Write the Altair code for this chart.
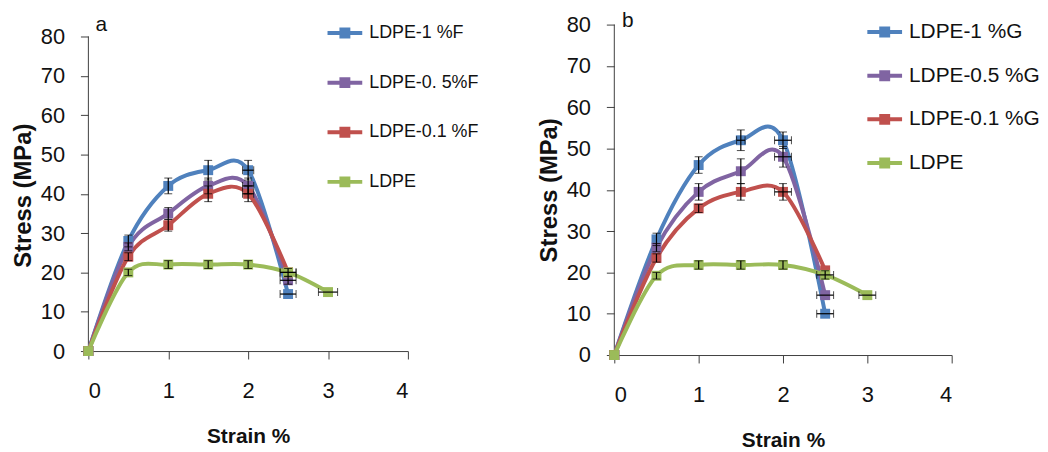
import altair as alt
import pandas as pd

# ---------------- data ----------------
strain = [0, 0.5, 1, 1.5, 2, 2.5]
strain_ldpe = [0, 0.5, 1, 1.5, 2, 2.5, 3]

# panel a (F)
a_names = ["LDPE-1 %F", "LDPE-0. 5%F", "LDPE-0.1 %F", "LDPE"]
a_f1 = [0, 28, 42, 46, 46, 14.5]
a_f05 = [0, 26.5, 35, 42, 42, 18]
a_f01 = [0, 24, 32, 40, 40, 20]
a_ldpe = [0, 20, 22, 22, 22, 20, 15]
a_f1_yerr = [0, 1.5, 2, 2.5, 2.5, 0]
a_f05_yerr = [0, 1, 1.5, 2, 2, 1]
a_f01_yerr = [0, 1, 1.5, 2, 2, 0]
a_ldpe_yerr = [0, 0.8, 1, 1, 1, 1, 0]
a_f1_xerr = [0, 0, 0, 0, 0.07, 0.1]
a_f05_xerr = [0, 0, 0, 0, 0.07, 0.1]
a_f01_xerr = [0, 0, 0, 0, 0.07, 0.1]
a_ldpe_xerr = [0, 0, 0, 0, 0, 0.1, 0.12]

# panel b (G)
b_names = ["LDPE-1 %G", "LDPE-0.5 %G", "LDPE-0.1 %G", "LDPE"]
b_g1 = [0, 28, 46, 52, 52, 10]
b_g05 = [0, 26, 39.5, 44.5, 48, 14.5]
b_g01 = [0, 23.5, 35.5, 39.5, 39.5, 20.5]
b_ldpe = [0, 19.2, 21.8, 21.8, 21.8, 19.4, 14.5]
b_g1_yerr = [0, 1.5, 2, 2.5, 2, 0]
b_g05_yerr = [0, 1, 2, 3, 2.5, 0]
b_g01_yerr = [0, 1, 1, 2, 2, 0]
b_ldpe_yerr = [0, 0.8, 1, 1, 1, 1, 0]
b_g1_xerr = [0, 0, 0, 0.05, 0.1, 0.1]
b_g05_xerr = [0, 0, 0, 0, 0.1, 0.1]
b_g01_xerr = [0, 0, 0, 0, 0.1, 0]
b_ldpe_xerr = [0, 0, 0, 0, 0, 0.1, 0.1]

colors = ["#4F81BD", "#8064A2", "#C0504D", "#9BBB59"]
y_ticks = [0, 10, 20, 30, 40, 50, 60, 70, 80]
x_ticks = [0, 1, 2, 3, 4]

FONT = "Liberation Sans"
AXIS_COLOR = "#404040"


def build(names, ys, yerrs, xerrs):
    rows = []
    for name, yv, ye, xe in zip(names, ys, yerrs, xerrs):
        xs = strain_ldpe if len(yv) == 7 else strain
        for xv, y, e1, e2 in zip(xs, yv, ye, xe):
            rows.append({"series": name, "strain": xv, "stress": y,
                         "yerr": e1, "xerr": e2})
    return pd.DataFrame(rows)


df_a = build(a_names, [a_f1, a_f05, a_f01, a_ldpe],
             [a_f1_yerr, a_f05_yerr, a_f01_yerr, a_ldpe_yerr],
             [a_f1_xerr, a_f05_xerr, a_f01_xerr, a_ldpe_xerr])
df_b = build(b_names, [b_g1, b_g05, b_g01, b_ldpe],
             [b_g1_yerr, b_g05_yerr, b_g01_yerr, b_ldpe_yerr],
             [b_g1_xerr, b_g05_xerr, b_g01_xerr, b_ldpe_xerr])

LEGEND_SYMBOL = "M-1,0H1M-0.2,-0.2H0.2V0.2H-0.2Z"


def panel(df, names, letter, w, h, ytop, letter_xy, legend_x, legend_y,
          row_pad, title_y, legend_fs):
    xscale = alt.Scale(domain=[0, 4], nice=False, zero=False)
    yscale = alt.Scale(domain=[0, ytop], nice=False)
    xaxis = alt.Axis(values=x_ticks, title="Strain %", grid=False,
                     tickSize=8, labelPadding=22, titlePadding=24,
                     domainColor=AXIS_COLOR, tickColor=AXIS_COLOR)
    yaxis_kw = dict(values=y_ticks, title="Stress (MPa)", grid=False,
                    domain=False, tickSize=8, labelPadding=16,
                    titlePadding=5, tickColor=AXIS_COLOR)
    if title_y is not None:
        yaxis_kw["titleY"] = title_y
    yaxis = alt.Axis(**yaxis_kw)

    def X(field="strain"):
        return alt.X(f"{field}:Q", scale=xscale, axis=xaxis)

    def Y(field="stress"):
        return alt.Y(f"{field}:Q", scale=yscale, axis=yaxis)

    color = alt.Color(
        "series:N",
        scale=alt.Scale(domain=names, range=colors),
        sort=names,
        legend=alt.Legend(title=None, orient="none", legendX=legend_x,
                          legendY=legend_y, symbolType=LEGEND_SYMBOL,
                          symbolSize=1225, symbolStrokeWidth=4,
                          labelFontSize=legend_fs, labelFont=FONT,
                          labelColor="#111", rowPadding=row_pad,
                          labelOffset=5),
    )
    base = alt.Chart(df)
    lines = base.mark_line(interpolate="cardinal", strokeWidth=4).encode(
        x=X(), y=Y(), color=color, detail="series:N")
    points = base.mark_point(shape="square", filled=True, size=100,
                             opacity=1).encode(x=X(), y=Y(), color=color)
    vbars = base.transform_filter("datum.yerr > 0").transform_calculate(
        lo="datum.stress - datum.yerr", hi="datum.stress + datum.yerr"
    ).mark_errorbar(ticks={"size": 8, "color": "black"},
                    rule={"color": "black", "strokeWidth": 1.2}).encode(
        x=X(), y=Y("lo"), y2="hi:Q")
    hbars = base.transform_filter("datum.xerr > 0").transform_calculate(
        lo="datum.strain - datum.xerr", hi="datum.strain + datum.xerr"
    ).mark_errorbar(ticks={"size": 8, "color": "black"},
                    rule={"color": "black", "strokeWidth": 1.2}).encode(
        x=X("lo"), x2="hi:Q", y=Y())
    axis_df = pd.DataFrame({"strain": [0], "stress": [0], "top": [80]})
    yline = alt.Chart(axis_df).mark_rule(color=AXIS_COLOR, strokeWidth=1).encode(
        x=X(), y=Y(), y2="top:Q")
    lab_df = pd.DataFrame({"strain": [letter_xy[0]], "stress": [letter_xy[1]],
                           "t": [letter]})
    label = alt.Chart(lab_df).mark_text(align="left", baseline="alphabetic",
                                        fontSize=21, font=FONT,
                                        color="#111").encode(
        x=X(), y=Y(), text="t:N")
    return alt.layer(yline, lines, points, vbars, hbars, label).properties(
        width=w, height=h)


pa = panel(df_a, a_names, "a", 322, 329, 83.03, (0.09, 81.3),
           239, -11, 19, 172, 18)
pb = panel(df_b, b_names, "b", 340, 333, 80, (0.09, 79.3),
           253, -12, 13, None, 21)

chart = alt.hconcat(pa, pb, spacing=58).resolve_scale(
    color="independent", x="independent", y="independent"
).configure_view(stroke=None).configure_axis(
    labelFont=FONT, labelFontSize=22, labelColor="#111",
    titleFont=FONT, titleFontSize=21, titleFontWeight="bold",
    titleColor="#111"
).configure_axisY(titleFontSize=24).properties(
    padding={"left": 3, "top": 0, "right": 0, "bottom": 0}
)

chart.save("out.html", embed_options={"renderer": "svg", "actions": False})
